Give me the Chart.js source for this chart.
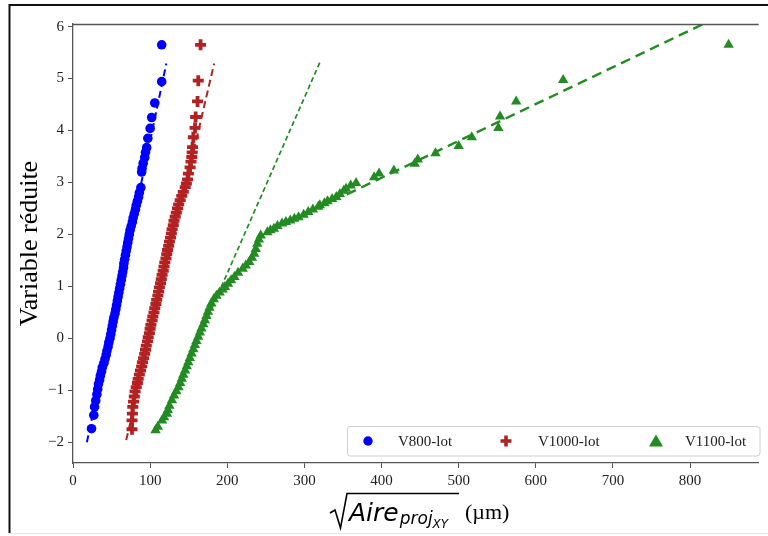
<!DOCTYPE html>
<html><head><meta charset="utf-8">
<script src="https://cdn.jsdelivr.net/npm/chart.js@4.4.0/dist/chart.umd.min.js"></script>
<style>
html,body{margin:0;padding:0;background:#fff;overflow:hidden;}
#wrap{position:relative;width:768px;height:536px;}
canvas{position:absolute;left:0;top:0;}
</style></head><body>
<div id="wrap"><canvas id="c" width="768" height="536"></canvas></div>
<script>
// ---- series names ----
const seriesNames = ['V800-lot', 'V1000-lot', 'V1100-lot'];

// ---- V800-lot (sqrt area, reduced variable) ----
const v800X = [24,27,28,29.5,31,32,33,34.5,35.5,37,38,40,41.5,43,44,45.5,46.5,48,49,50,51,52,53,54.5,55.5,56.5,57.5,58.5,59.5,60.5,61.5,62.5,63.5,64.5,65.5,66,67,68,69,70,71,72,73,74,75.5,77,78,79.5,81,82,83.5,85,86,88,89,89.5,91,93,94,95.5,97,100,102,106,115,115];
const v800Y = [-1.74,-1.48,-1.32,-1.20,-1.08,-0.98,-0.88,-0.80,-0.72,-0.64,-0.56,-0.48,-0.40,-0.32,-0.24,-0.16,-0.08,0.00,0.08,0.16,0.24,0.32,0.40,0.48,0.56,0.64,0.72,0.80,0.88,0.96,1.04,1.12,1.20,1.28,1.36,1.44,1.52,1.60,1.68,1.76,1.84,1.92,2.00,2.08,2.16,2.24,2.32,2.40,2.48,2.56,2.64,2.72,2.80,2.90,3.20,3.27,3.37,3.48,3.58,3.67,3.85,4.04,4.25,4.53,4.94,5.65];

// ---- V1000-lot ----
const v1000X = [76.5,76.5,77,77.5,78.5,79.5,80.5,82,83.5,84.5,86,87.5,89,90,91.5,93,94,95,96.5,97.5,99,100,101,102.5,103.5,105,106,107.5,108.5,110,111,112,113.5,114.5,115.5,117,118,119,120.5,121.5,122.5,124,125,126.5,127.5,128.5,130,131,132.5,134,135.5,137,139,141,143,145.5,147,148.5,149.6,151.8,153,154,154.5,155,156,158.2,159,161.5,162.4,165.4];
const v1000Y = [-1.75,-1.58,-1.45,-1.32,-1.22,-1.12,-1.02,-0.94,-0.86,-0.78,-0.70,-0.62,-0.54,-0.46,-0.38,-0.30,-0.22,-0.14,-0.06,0.02,0.10,0.18,0.26,0.34,0.42,0.50,0.58,0.66,0.74,0.82,0.90,0.98,1.06,1.14,1.22,1.30,1.38,1.46,1.54,1.62,1.70,1.78,1.86,1.94,2.02,2.10,2.18,2.26,2.34,2.42,2.50,2.58,2.66,2.74,2.82,2.91,2.98,3.06,3.17,3.29,3.40,3.49,3.58,3.68,3.87,4.05,4.26,4.56,4.96,5.65];

// ---- V1100-lot ----
const v1100X = [107,110,115.5,118,121.9,123,125,128.3,131,134,136.8,139,141,143,145.4,147.5,149.5,151.5,153.8,156,158,160,162.4,164.5,166.5,169,171,173,175,177,179.4,182.5,186,190,194,197,201,205,209.3,214,220,224,228.5,232,234.9,237,239,241,243.4,252,256,260.5,265,271,276,281.7,287,292.4,299,305,311,318,320,326,330,336,341.4,346,351,354,360,367,390.4,396.8,416,443,447,470,500,517,551.5,553.7,574.6,635.5,850];
const v1100Y = [-1.77,-1.70,-1.58,-1.52,-1.45,-1.38,-1.30,-1.19,-1.10,-1.02,-0.94,-0.86,-0.78,-0.70,-0.62,-0.54,-0.46,-0.38,-0.29,-0.21,-0.13,-0.05,0.03,0.11,0.19,0.27,0.35,0.43,0.51,0.59,0.67,0.75,0.82,0.88,0.94,0.99,1.05,1.12,1.18,1.26,1.34,1.40,1.47,1.55,1.63,1.72,1.82,1.90,1.98,2.04,2.08,2.11,2.16,2.21,2.24,2.27,2.30,2.33,2.38,2.43,2.48,2.53,2.56,2.60,2.64,2.68,2.72,2.78,2.84,2.88,2.94,2.99,3.10,3.17,3.23,3.36,3.44,3.56,3.70,3.87,4.05,4.27,4.56,4.97,5.65];

// ---- fitted lines (end points) ----
const fit800X = [18, 121];   const fit800Y = [-2.0, 5.29];
const fit1000X = [69, 183];  const fit1000Y = [-1.96, 5.29];
const fit1100aX = [163, 320]; const fit1100aY = [0.0, 5.31];
const fit1100bX = [355, 820]; const fit1100bY = [2.77, 6.07];

// ---- ticks ----
const xTicks = [0,100,200,300,400,500,600,700,800];
const yTicks = [-2,-1,0,1,2,3,4,5,6];

const pts = (xs, ys) => xs.map((x, i) => ({x: x, y: ys[i]}));
const C_BLUE = '#0000ff', C_RED = '#b22222', C_GREEN = '#228b22';
const SERIF = '"Liberation Serif", "Times New Roman", serif';

const decor = {
  id: 'decor',
  beforeDraw(chart) {
    const ctx = chart.ctx;
    ctx.save();
    ctx.fillStyle = '#fff';
    ctx.fillRect(0, 0, chart.width, chart.height);
    ctx.strokeStyle = '#111'; ctx.lineWidth = 2;
    ctx.beginPath(); ctx.moveTo(9.5, 533); ctx.lineTo(9.5, 5); ctx.lineTo(768, 5); ctx.stroke();
    ctx.strokeStyle = '#e4e4e4'; ctx.lineWidth = 1;
    ctx.beginPath(); ctx.moveTo(10, 533.5); ctx.lineTo(768, 533.5); ctx.stroke();
    ctx.restore();
  },
  afterDraw(chart) {
    const ctx = chart.ctx, a = chart.chartArea;
    ctx.save();
    ctx.strokeStyle = '#555'; ctx.lineWidth = 1.3;
    ctx.beginPath(); ctx.moveTo(a.left, a.top + 0.5); ctx.lineTo(a.right, a.top + 0.5); ctx.stroke();

    ctx.fillStyle = '#000';
    ctx.save();
    ctx.translate(37, (a.top + a.bottom) / 2);
    ctx.rotate(-Math.PI / 2);
    ctx.font = '26px ' + SERIF;
    ctx.textAlign = 'center'; ctx.textBaseline = 'alphabetic';
    ctx.fillText('Variable réduite', 0, 0);
    ctx.restore();

    ctx.strokeStyle = '#000'; ctx.lineWidth = 1.6; ctx.lineJoin = 'miter';
    ctx.beginPath();
    ctx.moveTo(330, 513); ctx.lineTo(335, 510); ctx.lineTo(340.5, 528); ctx.lineTo(347, 493.5); ctx.lineTo(459, 493.5);
    ctx.stroke();
    ctx.textAlign = 'left'; ctx.textBaseline = 'alphabetic';
    let x = 349;
    ctx.font = 'italic 25px "DejaVu Sans"';
    ctx.fillText('Aire', x, 520.5); x += ctx.measureText('Aire').width + 1;
    ctx.font = 'italic 17px "DejaVu Sans"';
    ctx.fillText('proj', x, 524); x += ctx.measureText('proj').width;
    ctx.font = 'italic 12px "DejaVu Sans"';
    ctx.fillText('XY', x, 527.5);
    ctx.font = '22px ' + SERIF;
    ctx.fillText('(µm)', 465, 519);

    const lx = 347, ly = 426, lw = 413, lh = 30, r = 3;
    ctx.fillStyle = 'rgba(255,255,255,0.85)';
    ctx.strokeStyle = '#d0d0d0'; ctx.lineWidth = 1;
    ctx.beginPath();
    ctx.moveTo(lx + r, ly + 0.5); ctx.lineTo(lx + lw - r, ly + 0.5);
    ctx.quadraticCurveTo(lx + lw, ly + 0.5, lx + lw, ly + r);
    ctx.lineTo(lx + lw, ly + lh - r);
    ctx.quadraticCurveTo(lx + lw, ly + lh, lx + lw - r, ly + lh);
    ctx.lineTo(lx + r, ly + lh);
    ctx.quadraticCurveTo(lx + 0.5, ly + lh, lx + 0.5, ly + lh - r);
    ctx.lineTo(lx + 0.5, ly + r);
    ctx.quadraticCurveTo(lx + 0.5, ly + 0.5, lx + r, ly + 0.5);
    ctx.closePath(); ctx.fill(); ctx.stroke();
    const cy = 441;
    const items = [
      {mx: 368, tx: 398, ds: chart.data.datasets[4]},
      {mx: 506, tx: 538, ds: chart.data.datasets[5]},
      {mx: 656, tx: 685, ds: chart.data.datasets[6]}
    ];
    items.forEach((it, i) => {
      if (i === 0) {
        ctx.fillStyle = C_BLUE; ctx.beginPath(); ctx.arc(it.mx, cy, 4.7, 0, Math.PI * 2); ctx.fill();
      } else if (i === 1) {
        ctx.strokeStyle = C_RED; ctx.lineWidth = 3.6; ctx.beginPath();
        ctx.moveTo(it.mx - 5.5, cy); ctx.lineTo(it.mx + 5.5, cy); ctx.moveTo(it.mx, cy - 5.5); ctx.lineTo(it.mx, cy + 5.5); ctx.stroke();
      } else {
        ctx.fillStyle = C_GREEN; ctx.beginPath();
        ctx.moveTo(it.mx, cy - 6.5); ctx.lineTo(it.mx + 7, cy + 5.5); ctx.lineTo(it.mx - 7, cy + 5.5); ctx.closePath(); ctx.fill();
      }
      ctx.fillStyle = '#222'; ctx.font = '15px ' + SERIF; ctx.textBaseline = 'middle'; ctx.textAlign = 'left';
      ctx.fillText(it.ds.label, it.tx, cy + 1);
    });
    ctx.restore();
  }
};

const fmt = v => (v < 0 ? '\u2212' + Math.abs(v) : String(v));
const axisCommon = {
  ticks: {font: {family: SERIF, size: 15}, color: '#222', padding: 4, maxRotation: 0, autoSkip: false},
  grid: {drawOnChartArea: false, drawTicks: true, tickLength: 5, color: '#555', lineWidth: 1},
  border: {display: true, color: '#555', width: 1.3}
};

new Chart(document.getElementById('c'), {
  type: 'scatter',
  data: {
    datasets: [
      {label: 'fit800', data: pts(fit800X, fit800Y), showLine: true, borderColor: C_BLUE, borderWidth: 2, borderDash: [7, 4], pointRadius: 0, order: 0},
      {label: 'fit1000', data: pts(fit1000X, fit1000Y), showLine: true, borderColor: C_RED, borderWidth: 2, borderDash: [7, 4], pointRadius: 0, order: 0},
      {label: 'fit1100a', data: pts(fit1100aX, fit1100aY), showLine: true, borderColor: C_GREEN, borderWidth: 1.7, borderDash: [5, 3], pointRadius: 0, order: 0},
      {label: 'fit1100b', data: pts(fit1100bX, fit1100bY), showLine: true, borderColor: C_GREEN, borderWidth: 2.4, borderDash: [10, 6], pointRadius: 0, order: 0},
      {label: seriesNames[0], data: pts(v800X, v800Y), pointStyle: 'circle', pointRadius: 4.8, borderWidth: 0, backgroundColor: C_BLUE, borderColor: C_BLUE, order: 1},
      {label: seriesNames[1], data: pts(v1000X, v1000Y), pointStyle: 'cross', pointRadius: 5.5, borderWidth: 3.8, backgroundColor: C_RED, borderColor: C_RED, order: 1},
      {label: seriesNames[2], data: pts(v1100X, v1100Y), pointStyle: 'triangle', pointRadius: 6, borderWidth: 0, backgroundColor: C_GREEN, borderColor: C_GREEN, order: 1}
    ]
  },
  options: {
    responsive: false, animation: false, events: [],
    layout: {padding: {left: 0, right: 0, top: 24, bottom: 0}},
    plugins: {legend: {display: false}, tooltip: {enabled: false}},
    scales: {
      x: Object.assign({}, axisCommon, {
        type: 'linear', min: 0, max: 889,
        afterBuildTicks: s => { s.ticks = xTicks.map(v => ({value: v})); },
        afterFit: s => { s.height = 73; },
        ticks: Object.assign({}, axisCommon.ticks, {callback: v => fmt(v)})
      }),
      y: Object.assign({}, axisCommon, {
        type: 'linear', min: -2.4, max: 6.05,
        afterBuildTicks: s => { s.ticks = yTicks.map(v => ({value: v})); },
        afterFit: s => { s.width = 73; },
        ticks: Object.assign({}, axisCommon.ticks, {callback: v => fmt(v)})
      })
    }
  },
  plugins: [decor]
});
</script>
</body></html>
